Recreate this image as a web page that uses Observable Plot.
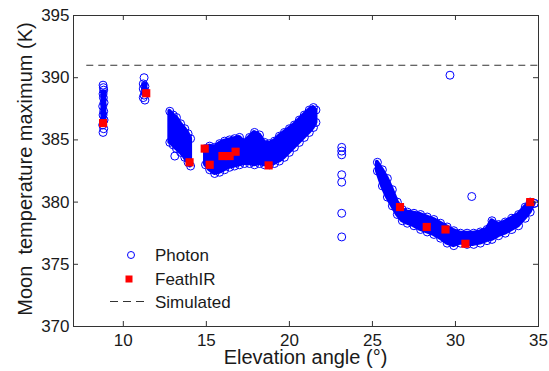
<!DOCTYPE html>
<html><head><meta charset="utf-8">
<script src="https://cdn.jsdelivr.net/npm/d3@7"></script>
<script src="https://cdn.jsdelivr.net/npm/@observablehq/plot@0.6"></script>
<style>body{margin:0;background:#fff}</style>
</head><body><div id="chart"></div>
<script>
// ---- axis ticks ----
const xTicks = [10, 15, 20, 25, 30, 35];
const yTicks = [370, 375, 380, 385, 390, 395];

// ---- Simulated (dashed) ----
const simY = 391;
const simX = [7.8, 35];

// ---- FeathIR (red squares) ----
const feathX = [8.78, 11.38, 13.99, 14.9, 15.2, 15.97, 16.4, 16.76, 18.75, 26.66, 28.27, 29.4, 30.6, 34.5];
const feathY = [386.35, 388.75, 383.2, 384.3, 383.0, 383.7, 383.7, 384.05, 382.95, 379.6, 378.0, 377.8, 376.65, 380.0];

// ---- Photon: individual points (columns, isolated points) ----
const photonX = [8.78, 8.82, 8.76, 8.84, 8.78, 8.82, 8.76, 8.84, 8.8, 8.78, 8.82, 8.8, 8.78,
                 11.25, 11.2, 11.3, 11.2, 11.3, 11.25, 11.2, 11.3,
                 13.1,
                 23.15, 23.15, 23.15, 23.15, 23.15, 23.15, 23.15,
                 29.67, 30.98];
const photonY = [385.6, 385.9, 386.2, 386.6, 387.0, 387.3, 387.7, 388.0, 388.4, 388.7, 389.0, 389.2, 389.4,
                 390.0, 389.5, 389.3, 389.1, 388.9, 388.6, 388.4, 388.2,
                 383.7,
                 384.4, 384.1, 383.8, 382.2, 381.6, 379.1, 377.2,
                 390.2, 380.45];

// ---- Photon: dense columns (filled core) ----
const colX  = [8.8, 11.27];
const colLo = [386.0, 388.5];
const colHi = [389.0, 389.6];

// ---- Photon: dense bands (envelopes of circle centres) ----
const band3X  = [12.8, 13.0, 13.2, 13.45, 13.7, 13.9, 14.05];
const band3Hi = [387.3, 387.0, 386.8, 386.3, 385.9, 385.5, 385.1];
const band3Lo = [384.8, 384.6, 384.3, 384.0, 383.6, 383.2, 382.9];

const band4X  = [14.95, 15.2, 15.5, 15.8, 16.1, 16.4, 16.7, 17.0, 17.3, 17.6, 17.9, 18.2, 18.5, 18.8, 19.1, 19.4, 19.7, 20.0, 20.3, 20.6, 20.9, 21.2, 21.45, 21.6];
const band4Hi = [384.3, 384.5, 384.4, 384.7, 384.9, 385.0, 385.1, 385.2, 384.8, 385.2, 385.6, 385.4, 384.8, 384.7, 384.9, 385.3, 385.6, 385.9, 386.2, 386.6, 387.0, 387.4, 387.6, 387.4];
const band4Lo = [383.0, 382.6, 382.3, 382.4, 382.6, 382.8, 382.9, 383.0, 383.1, 383.1, 383.0, 383.1, 383.0, 383.0, 383.1, 383.3, 383.6, 384.0, 384.4, 384.8, 385.2, 385.6, 386.0, 386.4];

const band6X  = [25.3, 25.6, 25.9, 26.2, 26.5, 26.8, 27.1, 27.5, 27.9, 28.3, 28.7, 29.1, 29.5, 29.9, 30.3, 30.7, 31.1, 31.5, 31.9, 32.2, 32.6, 33.0, 33.4, 33.8, 34.2, 34.5, 34.75];
const band6Hi = [383.2, 382.6, 381.9, 381.0, 380.0, 379.4, 379.2, 379.1, 379.0, 378.8, 378.6, 378.3, 378.0, 377.7, 377.5, 377.5, 377.5, 377.6, 377.8, 378.5, 378.2, 378.4, 378.7, 379.0, 379.6, 380.0, 379.9];
const band6Lo = [382.5, 381.3, 380.4, 379.7, 379.0, 378.5, 378.3, 378.1, 377.8, 377.6, 377.4, 377.1, 376.7, 376.5, 376.7, 376.6, 376.6, 376.7, 376.9, 377.0, 377.3, 377.5, 377.8, 378.1, 378.7, 379.2, 379.9];

// ---- build tables ----
const zipBand = (X, Lo, Hi) => X.map((x, i) => ({x, lo: Lo[i], hi: Hi[i]}));
const bands = [zipBand(band3X, band3Lo, band3Hi), zipBand(band4X, band4Lo, band4Hi), zipBand(band6X, band6Lo, band6Hi)];
const bandEdges = bands.flatMap(b => b.flatMap(d => [{x: d.x, y: d.lo}, {x: d.x, y: d.hi}]));
const photon = photonX.map((x, i) => ({x, y: photonY[i]}));
const feath = feathX.map((x, i) => ({x, y: feathY[i]}));
const cols = colX.map((x, i) => ({x, y1: colLo[i], y2: colHi[i]}));
const sim = [{y: simY, x1: simX[0], x2: simX[1]}];

const BLUE = "#0000ff", RED = "#ff0000", INK = "#333333";
const font = "'Liberation Sans', Arial, Helvetica, sans-serif";

const plot = Plot.plot({
  width: 549, height: 371,
  marginLeft: 73, marginRight: 11, marginTop: 15, marginBottom: 45,
  style: {fontFamily: font, fontSize: "17px", color: "#1a1a1a", background: "#fff", overflow: "visible"},
  x: {domain: [7, 35]},
  y: {domain: [370, 395]},
  marks: [
    ...bands.map(b => Plot.areaY(b, {x: "x", y1: "lo", y2: "hi", fill: BLUE, stroke: BLUE, strokeWidth: 4, strokeLinejoin: "round"})),
    Plot.ruleX(cols, {x: "x", y1: "y1", y2: "y2", stroke: BLUE, strokeWidth: 6}),
    Plot.dot(bandEdges, {x: "x", y: "y", r: 4, stroke: BLUE, strokeWidth: 1, fill: "none"}),
    Plot.dot(photon, {x: "x", y: "y", r: 4, stroke: BLUE, strokeWidth: 1, fill: "none"}),
    Plot.dot(feath, {x: "x", y: "y", symbol: "square", r: 4.6, fill: RED, stroke: "none"}),
    Plot.ruleY(sim, {y: "y", x1: "x1", x2: "x2", stroke: INK, strokeWidth: 1, strokeDasharray: "7,5"}),
    Plot.frame({stroke: INK}),
    Plot.tickX(xTicks, {x: d => d, insetTop: 306, stroke: INK}),
    Plot.tickX(xTicks, {x: d => d, insetBottom: 306, stroke: INK}),
    Plot.tickY(yTicks, {y: d => d, insetRight: 460, stroke: INK}),
    Plot.tickY(yTicks, {y: d => d, insetLeft: 460, stroke: INK}),
    Plot.axisX(xTicks, {tickSize: 0, tickPadding: 7, label: null, fontSize: 17}),
    Plot.axisY(yTicks, {tickSize: 0, tickPadding: 4, label: null, fontSize: 17})
  ]
});

const svg = d3.select(plot);
// axis titles
svg.append("text").attr("x", 305.5).attr("y", 364).attr("text-anchor", "middle")
  .attr("font-family", font).attr("font-size", 20).attr("fill", "#1a1a1a")
  .text("Elevation angle (°)");
svg.append("text").attr("transform", "translate(32,169) rotate(-90)").attr("text-anchor", "middle")
  .attr("font-family", font).attr("font-size", 20).attr("fill", "#1a1a1a")
  .style("white-space", "pre")
  .text("Moon\u00a0 temperature maximum (K)");

// legend (inside plot, bottom-left)
const lg = svg.append("g").attr("font-family", font).attr("font-size", 17).attr("fill", "#1a1a1a").attr("text-anchor", "start");
lg.append("circle").attr("cx", 131).attr("cy", 255).attr("r", 3.5).attr("fill", "none").attr("stroke", BLUE);
lg.append("rect").attr("x", 125.5).attr("y", 275.5).attr("width", 7).attr("height", 7).attr("fill", RED);
lg.append("line").attr("x1", 110).attr("x2", 146).attr("y1", 301.5).attr("y2", 301.5)
  .attr("stroke", INK).attr("stroke-dasharray", "8,5");
[["Photon", 255.5], ["FeathIR", 279], ["Simulated", 302]].forEach(([t, y]) => {
  lg.append("text").attr("x", 155).attr("y", y).attr("dy", "0.35em").attr("text-anchor", "start").text(t);
});

document.getElementById("chart").appendChild(plot);
</script>
</body></html>
